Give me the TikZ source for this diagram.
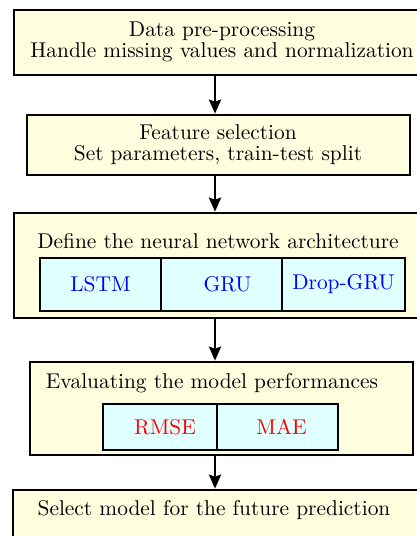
\documentclass[tikz,border=0pt]{standalone}
\usetikzlibrary{arrows.meta}
\definecolor{boxyellow}{RGB}{255,255,224}
\definecolor{boxcyan}{RGB}{224,255,255}
\begin{document}
\begin{tikzpicture}[x=0.5pt,y=-0.5pt,
  every node/.style={font=\fontsize{10.7}{12.6}\selectfont},
  outerbox/.style={draw=black, line width=1.3pt, fill=boxyellow, rectangle, inner sep=0pt},
  cellbox/.style={draw=black, line width=1.3pt, fill=boxcyan, rectangle, inner sep=0pt},
  txt/.style={inner sep=0pt, align=center, text=black},
  arr/.style={line width=1.4pt, -{Stealth[length=7pt,width=6pt,inset=1pt]}}]
\useasboundingbox (0,0) rectangle (417,536);
% boxes
\node[outerbox, minimum width=204pt, minimum height=32.5pt] (b1) at (218,42.5) {};
\node[outerbox, minimum width=191.5pt, minimum height=30pt] (b2) at (218.5,145) {};
\node[outerbox, minimum width=204pt, minimum height=52.5pt] (b3) at (218,265.5) {};
\node[outerbox, minimum width=191.5pt, minimum height=46.5pt] (b4) at (221.5,408.5) {};
\node[outerbox, minimum width=205pt, minimum height=35pt] (b5) at (218,525) {};
% texts
\node[txt] (t1) at (222,42) {Data pre-processing\\[-2pt]Handle missing values and normalization};
\node[txt] (t2) at (218,145) {Feature selection\\[-2pt]Set parameters, train-test split};
\node[txt] (t3) at (218,241) {Define the neural network architecture};
\node[txt] (t4) at (212,383) {Evaluating the model performances};
\node[txt] (t5) at (214,510) {Select model for the future prediction};
% cells
\node[cellbox, minimum width=60.5pt, minimum height=26.5pt, text=blue] (c1) at (100.5,284.5) {LSTM};
\node[cellbox, minimum width=60.5pt, minimum height=26.5pt, text=blue] (c2) at (221.5,284.5) {\hspace*{6pt}GRU};
\node[cellbox, minimum width=61.5pt, minimum height=26.5pt, text=blue] (c3) at (343.5,284.5) {Drop-GRU};
\node[cellbox, minimum width=57pt, minimum height=23pt, text=red] (m1) at (160,427) {\hspace*{5pt}RMSE};
\node[cellbox, minimum width=60.5pt, minimum height=23pt, text=red] (m2) at (277.5,427) {\hspace*{4pt}MAE};
% arrows
\coordinate (ax) at (215,0);
\draw[arr] (b1.south -| ax) -- (b2.north -| ax);
\draw[arr] (b2.south -| ax) -- (b3.north -| ax);
\draw[arr] (b3.south -| ax) -- (b4.north -| ax);
\draw[arr] (b4.south -| ax) -- (b5.north -| ax);
\end{tikzpicture}
\end{document}
